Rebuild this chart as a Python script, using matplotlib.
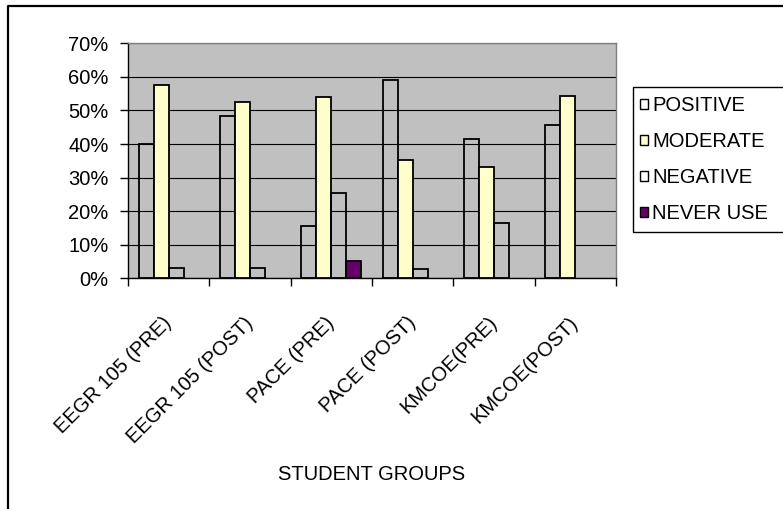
import matplotlib
matplotlib.use("Agg")
import matplotlib.pyplot as plt
import numpy as np
from matplotlib.patches import Rectangle
from matplotlib.lines import Line2D
from matplotlib.ticker import FuncFormatter

plt.rcParams['font.family'] = ['Liberation Sans', 'DejaVu Sans']

# ---- data (percent of students) ----
groups = ["EEGR 105 (PRE)", "EEGR 105 (POST)", "PACE (PRE)",
          "PACE (POST)", "KMCOE(PRE)", "KMCOE(POST)"]
series_names = ["POSITIVE", "MODERATE", "NEGATIVE", "NEVER USE"]
positive = [40.0, 48.2, 15.6, 59.1, 41.5, 45.6]
moderate = [57.6, 52.5, 53.9, 35.2, 33.2, 54.4]
negative = [3.2, 3.2, 25.4, 2.7, 16.6, 0.0]
never_use = [0.0, 0.0, 5.3, 0.0, 0.0, 0.0]
y_ticks = [0, 10, 20, 30, 40, 50, 60, 70]

series = [positive, moderate, negative, never_use]
bar_faces = ["none", "#FFFFCC", "none", "#660066"]
legend_faces = ["white", "#FFFFCC", "white", "#660066"]

W, H = 783, 509
FS = 14.5

fig = plt.figure(figsize=(W / 100, H / 100), dpi=100)
fig.patch.set_facecolor("white")

left, right, top, bottom = 128, 616, 43.3, 278.3
ax = fig.add_axes([left / W, 1 - bottom / H, (right - left) / W, (bottom - top) / H])
ax.set_facecolor("#C0C0C0")
ax.set_axisbelow(True)
ax.yaxis.grid(True, color="black", linewidth=0.8)

n = len(series)
bar_w = 1 / 5.45
x = np.arange(len(groups))
for k, (vals, face) in enumerate(zip(series, bar_faces)):
    vals = np.asarray(vals, dtype=float)
    keep = vals > 0
    ax.bar(x[keep] + (k - (n - 1) / 2) * bar_w, vals[keep], width=bar_w,
           facecolor=face, edgecolor="black", linewidth=1.3, zorder=3)

ax.set_xlim(-0.5, len(groups) - 0.5)
ax.set_ylim(0, 70)
ax.set_yticks(y_ticks)
ax.yaxis.set_major_formatter(FuncFormatter(lambda v, p: f"{v:.0f}%"))
ax.tick_params(axis="y", length=6, width=1, pad=8, labelsize=FS, direction="out")

# category boundaries carry the tick marks, centres carry the labels
ax.set_xticks(np.arange(len(groups) + 1) - 0.5)
ax.set_xticklabels([])
ax.set_xticks(x, minor=True)
ax.set_xticklabels(groups, minor=True, rotation=45, ha="right", va="center",
                   rotation_mode="anchor", fontsize=FS)
ax.tick_params(axis="x", which="major", length=6, width=1, direction="out")
ax.tick_params(axis="x", which="minor", length=0, pad=30)

for s in ("top", "right"):
    ax.spines[s].set_color("#808080")
    ax.spines[s].set_linewidth(1)
for s in ("left", "bottom"):
    ax.spines[s].set_color("black")
    ax.spines[s].set_linewidth(1)

fig.text(372 / W, 1 - 475 / H, "STUDENT GROUPS", ha="center", va="center", fontsize=FS)

# legend
handles = [Rectangle((0, 0), 1, 1, facecolor=c, edgecolor="black", linewidth=1)
           for c in legend_faces]
fig.legend(handles, series_names, loc="upper left",
           bbox_to_anchor=(640 / W, 1 - 96 / H), frameon=False,
           handlelength=0.4, handleheight=0.4, handletextpad=0.22,
           labelspacing=0.85, borderpad=0, borderaxespad=0, fontsize=FS)
fig.add_artist(Rectangle((633 / W, 1 - 232 / H), (820 - 633) / W, (232 - 87) / H,
                         transform=fig.transFigure, fill=False,
                         edgecolor="black", linewidth=1))

# outer chart border
fig.add_artist(Line2D([8 / W, 8 / W, 1.02], [-0.02, 1 - 6 / H, 1 - 6 / H],
                      transform=fig.transFigure, color="black", linewidth=1.6))

fig.savefig("out.png", dpi=100)
